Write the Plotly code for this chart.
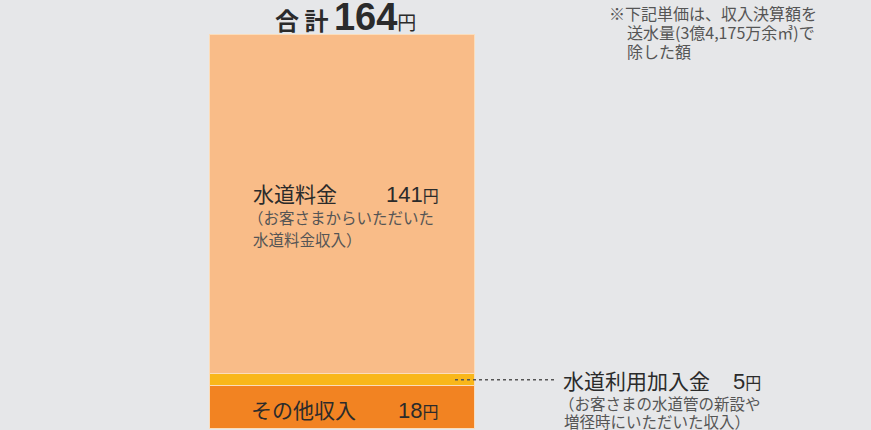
import plotly.graph_objects as go

categories = ["その他収入", "水道利用加入金", "水道料金"]
values = [18, 5, 141]
total = sum(values)
colors = ["#F28322", "#F9B71A", "#F9BC88"]

W, H = 871, 430
BAR_L, BAR_R = 210, 475
BAR_TOP, BAR_BOT = 35, 429
ppu = (BAR_BOT - BAR_TOP) / total
y_lo = -(H - BAR_BOT) / ppu
y_hi = BAR_BOT / ppu

fig = go.Figure()
for name, v, c in zip(categories, values, colors):
    fig.add_trace(go.Bar(
        x=[(BAR_L + BAR_R) / 2], y=[v], width=[BAR_R - BAR_L], name=name,
        marker=dict(color=c, line=dict(color="#FBDDBB", width=1.5)),
        hoverinfo="skip",
    ))

JP = "Noto Sans CJK JP"
NUM = "Liberation Sans"
DARK = "#2b2b2b"
GRAY = "#555555"

def px(x):
    return x / W

def py(y):
    return 1 - y / H

ann = []
def add(text, x, y, size, color=DARK, xanchor="left", family=JP):
    ann.append(dict(text=text, x=px(x), y=py(y), xref="paper", yref="paper",
                    xanchor=xanchor, yanchor="middle", showarrow=False,
                    font=dict(family=family, size=size, color=color)))

def yen(v, size=22):
    return ('<span style="font-family:%s;font-size:%dpx">%d</span>'
            '<span style="font-size:16px">円</span>' % (NUM, size, v))

add('<b>合 計 </b><span style="font-size:38px;font-family:Liberation Sans"><b>%d</b></span><span style="font-size:19px">円</span>' % total,
    345, 17, 24, xanchor="center")

add("※下記単価は、収入決算額を", 607, 13, 16, GRAY)
add("送水量(3億4,175万余㎥)で", 625, 32, 16, GRAY)
add("除した額", 625, 51, 16, GRAY)

# 水道料金
add(categories[2], 251, 193, 21)
add(yen(values[2]), 441, 195, 21, xanchor="right")
add("（お客さまからいただいた", 246, 217, 15.5, GRAY)
add("水道料金収入）", 251, 239, 15.5, GRAY)

# その他収入
add(categories[0], 249, 409, 21)
add(yen(values[0]), 441, 410, 21, xanchor="right")

# 水道利用加入金
add(categories[1], 561, 380, 21)
add(yen(values[1]), 763, 381, 21, xanchor="right")
add("（お客さまの水道管の新設や", 557, 403, 15.5, GRAY)
add("増径時にいただいた収入）", 562, 421, 15.5, GRAY)

fig.update_layout(
    width=W, height=H, barmode="stack", showlegend=False,
    margin=dict(l=0, r=0, t=0, b=0),
    paper_bgcolor="#E6E7E9", plot_bgcolor="#E6E7E9",
    xaxis=dict(range=[0, W], visible=False, fixedrange=True),
    yaxis=dict(range=[y_lo, y_hi], visible=False, fixedrange=True),
    annotations=ann,
    shapes=[dict(type="line", xref="paper", yref="y",
                 x0=px(455), x1=px(557),
                 y0=values[0] + values[1] / 2, y1=values[0] + values[1] / 2,
                 line=dict(color="#555555", width=1.5, dash="dot"))],
    bargap=0,
)
fig.write_html("out.html", config={"displayModeBar": False},
               post_script="document.body.style.margin='0';document.body.style.overflow='hidden';")
